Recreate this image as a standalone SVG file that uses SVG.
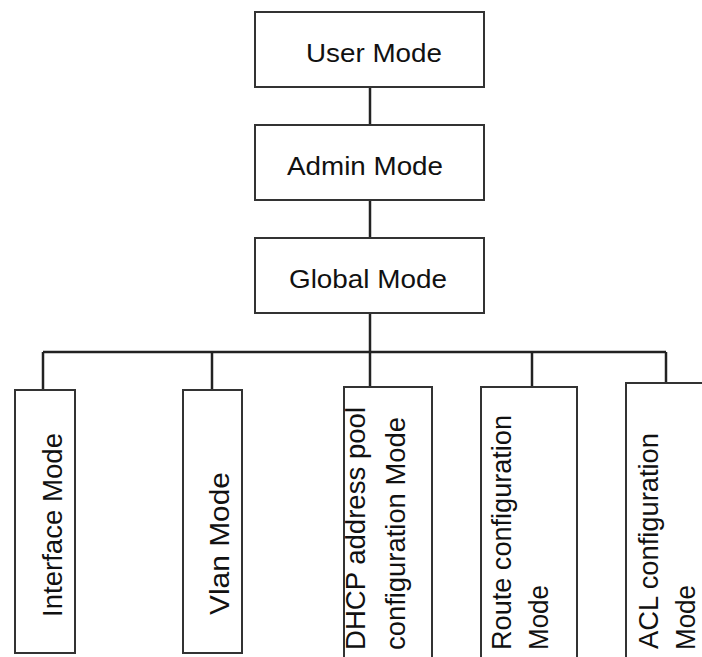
<svg xmlns="http://www.w3.org/2000/svg" width="702" height="657" viewBox="0 0 702 657">
<style>
.box{fill:#fff;stroke:#333;stroke-width:2}
.ln{stroke:#222;stroke-width:2.5;fill:none}
.t{font-family:"Liberation Sans",Arial,sans-serif;fill:#111}
.top{font-size:26px}
.v{font-size:27px}
</style>
<rect width="702" height="657" fill="#fff"/>
<g id="connectors">
<line class="ln" x1="370" y1="87" x2="370" y2="125"/>
<line class="ln" x1="370" y1="200" x2="370" y2="238"/>
<line class="ln" x1="370" y1="313" x2="370" y2="387"/>
<line class="ln" x1="43" y1="352" x2="666" y2="352"/>
<line class="ln" x1="43" y1="352" x2="43" y2="390"/>
<line class="ln" x1="212" y1="352" x2="212" y2="390"/>
<line class="ln" x1="532" y1="352" x2="532" y2="387"/>
<line class="ln" x1="666" y1="352" x2="666" y2="383"/>
</g>
<g id="user">
<rect class="box" x="255" y="12" width="229" height="75"/>
<text class="t top" x="306" y="62" textLength="136" lengthAdjust="spacingAndGlyphs">User Mode</text>
</g>
<g id="admin">
<rect class="box" x="255" y="125" width="229" height="75"/>
<text class="t top" x="287" y="175" textLength="156" lengthAdjust="spacingAndGlyphs">Admin Mode</text>
</g>
<g id="global">
<rect class="box" x="255" y="238" width="229" height="75"/>
<text class="t top" x="289" y="288" textLength="158" lengthAdjust="spacingAndGlyphs">Global Mode</text>
</g>
<g id="interface">
<rect class="box" x="15" y="390" width="60" height="263"/>
<text class="t v" transform="translate(62,617) rotate(-90)" textLength="184" lengthAdjust="spacingAndGlyphs">Interface Mode</text>
</g>
<g id="vlan">
<rect class="box" x="183" y="390" width="59" height="263"/>
<text class="t v" transform="translate(229,615) rotate(-90)" textLength="143" lengthAdjust="spacingAndGlyphs">Vlan Mode</text>
</g>
<g id="dhcp">
<rect class="box" x="344" y="387" width="88" height="290"/>
<text class="t v" transform="translate(365,650) rotate(-90)" textLength="243" lengthAdjust="spacingAndGlyphs">DHCP address pool</text>
<text class="t v" transform="translate(405,650) rotate(-90)" textLength="233" lengthAdjust="spacingAndGlyphs">configuration Mode</text>
</g>
<g id="route">
<rect class="box" x="481" y="387" width="96" height="290"/>
<text class="t v" transform="translate(511,650) rotate(-90)" textLength="235" lengthAdjust="spacingAndGlyphs">Route configuration</text>
<text class="t v" transform="translate(548,650) rotate(-90)" textLength="65" lengthAdjust="spacingAndGlyphs">Mode</text>
</g>
<g id="acl">
<rect class="box" x="626" y="383" width="90" height="294"/>
<text class="t v" transform="translate(658,649) rotate(-90)" textLength="216" lengthAdjust="spacingAndGlyphs">ACL configuration</text>
<text class="t v" transform="translate(695,650) rotate(-90)" textLength="65" lengthAdjust="spacingAndGlyphs">Mode</text>
</g>
</svg>
